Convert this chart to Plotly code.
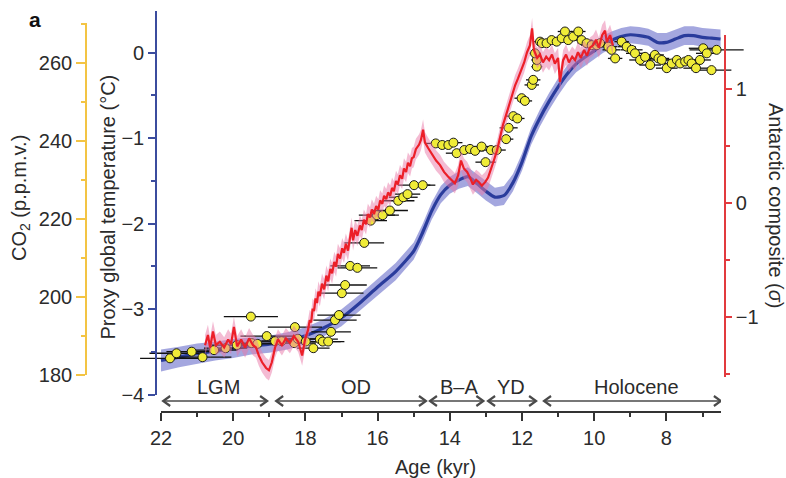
import plotly.graph_objects as go

# ------------------------------------------------------------------ data
# Proxy global temperature stack (deg C) with 1-sigma band
temp_age = [22.0, 21.5, 21.0, 20.5, 20.0, 19.5, 19.0, 18.5, 18.0, 17.5, 17.0, 16.5,
            16.0, 15.5, 15.0, 14.75, 14.5, 14.25, 14.0, 13.75, 13.5, 13.25, 13.0,
            12.75, 12.5, 12.25, 12.0, 11.75, 11.5, 11.25, 11.0, 10.75, 10.5, 10.25,
            10.0, 9.75, 9.5, 9.25, 9.0, 8.75, 8.5, 8.25, 8.0, 7.75, 7.5, 7.25, 7.0,
            6.75, 6.5]
temp_val = [-3.6, -3.56, -3.52, -3.49, -3.46, -3.43, -3.41, -3.37, -3.31, -3.22, -3.1,
            -2.93, -2.74, -2.56, -2.32, -2.1, -1.85, -1.66, -1.55, -1.49, -1.45, -1.53,
            -1.62, -1.69, -1.67, -1.52, -1.28, -0.98, -0.76, -0.57, -0.4, -0.25, -0.13,
            -0.05, 0.02, 0.1, 0.15, 0.19, 0.21, 0.2, 0.18, 0.12, 0.12, 0.16, 0.2, 0.2,
            0.18, 0.17, 0.16]
temp_err = [0.13, 0.12, 0.12, 0.11, 0.11, 0.1, 0.1, 0.1, 0.1, 0.1, 0.1, 0.1,
            0.1, 0.1, 0.1, 0.1, 0.1, 0.1, 0.1, 0.1, 0.11, 0.11, 0.11,
            0.11, 0.11, 0.1, 0.1, 0.1, 0.1, 0.1, 0.1, 0.1, 0.1, 0.1,
            0.1, 0.1, 0.1, 0.1, 0.1, 0.1, 0.1, 0.11, 0.11, 0.11, 0.11, 0.11, 0.11,
            0.11, 0.11]

# Antarctic temperature composite (sigma units)
ant_age = [20.78, 20.70, 20.64, 20.56, 20.48, 20.37, 20.25, 20.14, 20.06, 19.98, 19.89,
           19.78, 19.67, 19.56, 19.45, 19.37, 19.29, 19.20, 19.09, 19.01, 18.93, 18.84,
           18.76, 18.65, 18.54, 18.43, 18.32, 18.20, 18.09, 18.01,
           17.93, 17.88, 17.84, 17.80, 17.76, 17.72, 17.68, 17.64, 17.60, 17.54,
           17.48, 17.42, 17.37, 17.31, 17.26, 17.20, 17.15, 17.10, 17.04, 16.98,
           16.93, 16.88, 16.82, 16.76, 16.72, 16.68, 16.62, 16.56, 16.49, 16.44,
           16.38, 16.32, 16.27, 16.21, 16.16, 16.10, 16.04, 15.98, 15.93, 15.87,
           15.82, 15.76, 15.71, 15.65, 15.60, 15.55, 15.49, 15.44, 15.38, 15.32,
           15.27, 15.21, 15.16, 15.10, 15.05, 15.00, 14.94,
           14.85, 14.80, 14.74, 14.69, 14.60, 14.49, 14.38,
           14.27, 14.16, 14.05, 13.94, 13.86, 13.77, 13.69, 13.61, 13.52, 13.44, 13.36,
           13.27, 13.19, 13.11, 13.02, 12.94, 12.86, 12.78, 12.69, 12.61, 12.53, 12.44,
           12.36, 12.28, 12.19, 12.11, 12.03, 11.94, 11.86, 11.78, 11.72, 11.67, 11.58,
           11.50, 11.42, 11.33, 11.25, 11.17, 11.09, 11.00, 10.95, 10.86, 10.78, 10.70,
           10.61, 10.53, 10.45, 10.37, 10.28, 10.20, 10.12, 10.03, 9.95, 9.87, 9.78,
           9.70, 9.65, 9.56, 9.48]
ant_val = [-1.25, -1.16, -1.27, -1.13, -1.25, -1.22, -1.27, -1.20, -1.24, -1.09, -1.26,
           -1.20, -1.27, -1.19, -1.25, -1.27, -1.34, -1.40, -1.45, -1.47, -1.40, -1.27,
           -1.20, -1.25, -1.19, -1.23, -1.17, -1.22, -1.34, -1.20,
           -1.12, -1.03, -1.05, -0.93, -0.95, -0.84, -0.88, -0.78, -0.82, -0.71,
           -0.76, -0.64, -0.69, -0.58, -0.62, -0.52, -0.56, -0.45, -0.49, -0.40,
           -0.44, -0.36, -0.42, -0.30, -0.22, -0.33, -0.24, -0.29, -0.20, -0.24,
           -0.15, -0.19, -0.10, -0.13, -0.06, -0.10, -0.03, -0.06, 0.02, -0.01,
           0.06, 0.03, 0.09, 0.06, 0.13, 0.10, 0.19, 0.16, 0.24, 0.21,
           0.30, 0.27, 0.35, 0.32, 0.39, 0.40, 0.47,
           0.51, 0.55, 0.64, 0.53, 0.48, 0.42, 0.37,
           0.33, 0.27, 0.23, 0.20, 0.17, 0.24, 0.37, 0.30, 0.27, 0.22, 0.16,
           0.20, 0.18, 0.15, 0.18, 0.22, 0.29, 0.37, 0.46, 0.57, 0.68, 0.77,
           0.86, 0.94, 1.03, 1.09, 1.16, 1.23, 1.32, 1.38, 1.53, 1.34, 1.27,
           1.30, 1.23, 1.28, 1.25, 1.30, 1.22, 1.27, 1.06, 1.25, 1.30, 1.23,
           1.28, 1.25, 1.32, 1.27, 1.34, 1.29, 1.36, 1.38, 1.43, 1.36, 1.47,
           1.51, 1.41, 1.47, 1.38]
ANT_ERR = 0.09

# Atmospheric CO2 (p.p.m.v.) with age uncertainty (kyr)
co2_age = [21.75, 21.57, 21.15, 20.85, 20.53, 20.21, 19.90, 19.51, 19.49, 19.33, 19.07,
           18.84, 18.66, 18.31, 18.29, 18.21, 17.99, 17.78, 17.60, 17.52, 17.37, 17.29,
           17.18, 17.07, 16.99, 16.90, 16.76, 16.56, 16.37, 16.19, 16.02, 15.86, 15.66,
           15.43, 15.29, 15.17, 14.99, 14.75, 14.39, 14.21, 14.04, 13.90, 13.81, 13.60,
           13.44, 13.30, 13.12, 13.01, 12.86, 12.70, 12.44, 12.37, 12.24, 12.13, 12.01,
           11.92, 11.73, 11.69, 11.59, 11.59, 11.64, 11.50, 11.45, 11.32, 11.18, 11.04,
           10.90, 10.81, 10.72, 10.58, 10.44, 10.35, 10.21, 10.07, 9.93, 9.84, 9.61,
           9.52, 9.42, 9.24, 9.10, 8.96, 8.87, 8.73, 8.59, 8.45, 8.32, 8.22, 8.13,
           7.99, 7.85, 7.71, 7.62, 7.48, 7.39, 7.30, 7.18, 7.07, 6.98, 6.88, 6.75, 6.61]
co2_val = [184.2, 185.5, 185.9, 184.5, 186.3, 186.8, 187.6, 194.9, 188.1, 187.9, 189.9,
           188.6, 188.6, 188.1, 192.2, 189.2, 188.5, 186.8, 189.1, 188.5, 188.5, 191.0,
           194.0, 195.3, 200.9, 203.0, 207.9, 207.4, 213.8, 219.5, 220.9, 220.9, 222.1,
           224.6, 225.5, 226.3, 228.6, 228.6, 239.3, 238.9, 238.9, 239.5, 236.8, 237.6,
           237.9, 237.4, 238.5, 234.5, 237.6, 237.6, 240.4, 243.3, 246.3, 245.7, 250.9,
           250.2, 254.3, 255.6, 259.0, 260.7, 262.4, 265.4, 265.0, 265.0, 265.8, 265.4,
           266.3, 268.0, 265.8, 266.7, 268.0, 265.8, 265.0, 264.5, 264.5, 265.0, 264.1,
           263.3, 261.1, 265.4, 264.1, 263.3, 262.4, 260.7, 261.5, 259.4, 262.0, 261.1,
           260.7, 258.6, 259.8, 260.7, 259.8, 260.3, 260.7, 259.8, 258.6, 260.7, 263.7,
           262.4, 258.1, 263.3]
co2_age_err = [0.83, 0.75, 0.7, 0.8, 0.65, 0.6, 0.7, 0.75, 0.6, 0.55, 0.73,
               0.6, 0.55, 0.6, 0.75, 0.6, 0.5, 0.45, 0.5, 0.5, 0.45, 0.55,
               0.6, 0.6, 0.6, 0.6, 0.55, 0.55, 0.55, 0.45, 0.5, 0.45, 0.5,
               0.45, 0.4, 0.35, 0.45, 0.35, 0.3, 0.25, 0.25, 0.25, 0.3, 0.25,
               0.25, 0.25, 0.25, 0.28, 0.25, 0.25, 0.2, 0.25, 0.2, 0.2, 0.2,
               0.2, 0.2, 0.2, 0.15, 0.15, 0.15, 0.2, 0.15, 0.2, 0.2, 0.2,
               0.25, 0.2, 0.2, 0.25, 0.2, 0.3, 0.25, 0.3, 0.25, 0.2, 0.25,
               0.25, 0.2, 0.2, 0.25, 0.3, 0.25, 0.3, 0.25, 0.3, 0.25, 0.3, 0.35,
               0.3, 0.3, 0.4, 0.3, 0.3, 0.35, 0.3, 0.35, 0.3, 0.4, 0.3, 0.55, 0.75]

# Periods shown by arrows under the curves
period_names = ["LGM", "OD", "B–A", "YD", "Holocene"]
period_start = [21.94, 18.81, 14.55, 12.94, 11.39]
period_end = [19.06, 14.66, 13.07, 11.61, 6.49]
period_label_age = [20.41, 16.59, 13.75, 12.31, 8.84]

# Tick settings
age_tick0, age_dtick = 8, 2
temp_dtick = 1
co2_tick0, co2_dtick = 180, 20
ant_dtick = 1
AGE_MAX, AGE_MIN = 22, 6.49
TEMP_MIN = -4.003
CO2_MIN = 179.95

assert len(ant_age) == len(ant_val)
assert len(co2_age) == len(co2_val) == len(co2_age_err)
assert len(temp_age) == len(temp_val) == len(temp_err)

# ------------------------------------------------------------------ geometry (pixels)
W, H = 786, 478
X22_PX, PX_PER_KYR = 161.0, 36.1
X_AXIS_Y = 411.7
T0_PX, PX_PER_C, T_TOP_PX = 52.7, 85.5, 10.7
C260_PX, PX_PER_PPM, C_TOP_PX = 62.7, 3.9, 22.7
A0_PX, PX_PER_SIG, A_TOP_PX, A_BOT_PX = 202.7, 114.0, 35.0, 376.7
T_AX_X, C_AX_X, A_AX_X = 156.0, 86.0, 725.0
ARROW_Y, LABEL_Y = 401.0, 387.0


def age_at(px):
    return 22 - (px - X22_PX) / PX_PER_KYR


def px_of_age(a):
    return X22_PX + (22 - a) * PX_PER_KYR


def temp_at(py):
    return (T0_PX - py) / PX_PER_C


def co2_at(py):
    return 260 - (py - C260_PX) / PX_PER_PPM


def ant_at(py):
    return (A0_PX - py) / PX_PER_SIG


def fx(px):
    return px / W


def fy(py):
    return 1 - py / H


FONT = "Liberation Sans, Arial, Helvetica, sans-serif"
TXT = "#2b2b2b"
BLUE_AX = "#3b4c9e"
CO2_AX = "#f3c444"
RED_AX = "#e23a3e"

fig = go.Figure()

# temperature band + line
fig.add_trace(go.Scatter(
    x=temp_age + temp_age[::-1],
    y=[v + e for v, e in zip(temp_val, temp_err)] + [v - e for v, e in zip(temp_val, temp_err)][::-1],
    fill="toself", fillcolor="rgba(138,142,214,0.78)", line=dict(width=0),
    mode="lines", hoverinfo="skip", showlegend=False, xaxis="x", yaxis="y"))
fig.add_trace(go.Scatter(
    x=temp_age, y=temp_val, mode="lines", line=dict(color="#2a3c9c", width=3.2, shape="spline", smoothing=0.6),
    showlegend=False, xaxis="x", yaxis="y"))

# Antarctic band + line
fig.add_trace(go.Scatter(
    x=ant_age + ant_age[::-1],
    y=[v + ANT_ERR for v in ant_val] + [v - ANT_ERR for v in ant_val][::-1],
    fill="toself", fillcolor="rgba(234,120,168,0.5)", line=dict(width=0),
    mode="lines", hoverinfo="skip", showlegend=False, xaxis="x", yaxis="y3"))
fig.add_trace(go.Scatter(
    x=ant_age, y=ant_val, mode="lines", line=dict(color="#ec1f28", width=2.2),
    showlegend=False, xaxis="x", yaxis="y3"))

# CO2 points
fig.add_trace(go.Scatter(
    x=co2_age, y=co2_val, mode="markers",
    marker=dict(size=9, color="#f0ec38", line=dict(color="#1a1a1a", width=1)),
    error_x=dict(type="data", array=co2_age_err, symmetric=True, color="#111111", thickness=1.3, width=0),
    showlegend=False, xaxis="x", yaxis="y2"))

# dummy traces so the visible axes get drawn
for yid in ["y5", "y6", "y7"]:
    fig.add_trace(go.Scatter(x=[None], y=[None], mode="markers", xaxis="x2", yaxis=yid,
                             showlegend=False, hoverinfo="skip"))

tickfont = dict(family=FONT, size=20, color=TXT)

layout = dict(
    width=W, height=H, autosize=False,
    margin=dict(l=0, r=0, t=0, b=0, pad=0, autoexpand=False),
    paper_bgcolor="white", plot_bgcolor="rgba(0,0,0,0)",
    font=dict(family=FONT, size=20, color=TXT),
    showlegend=False,
    # hidden data axes spanning the whole figure
    xaxis=dict(domain=[0, 1], range=[age_at(0), age_at(W)], visible=False, fixedrange=True, automargin=False),
    yaxis=dict(domain=[0, 1], range=[temp_at(H), temp_at(0)], visible=False, fixedrange=True, automargin=False),
    yaxis2=dict(overlaying="y", range=[co2_at(H), co2_at(0)], visible=False, fixedrange=True, automargin=False),
    yaxis3=dict(overlaying="y", range=[ant_at(H), ant_at(0)], visible=False, fixedrange=True, automargin=False),
    # visible age axis
    xaxis2=dict(domain=[fx(px_of_age(AGE_MAX)), fx(px_of_age(AGE_MIN))], range=[AGE_MAX, AGE_MIN],
                anchor="free", position=fy(X_AXIS_Y), showline=True, linecolor="#333333", linewidth=1.6,
                ticks="outside", ticklen=8, tickwidth=1.6, tickcolor="#333333",
                tickmode="linear", tick0=age_tick0, dtick=age_dtick, tickfont=tickfont,
                minor=dict(ticks="outside", dtick=1, ticklen=4, tickwidth=1.6, tickcolor="#333333", showgrid=False),
                showgrid=False, zeroline=False, fixedrange=True, automargin=False),
    # temperature axis
    yaxis5=dict(domain=[fy(T0_PX - TEMP_MIN * PX_PER_C), fy(T_TOP_PX)], range=[TEMP_MIN, temp_at(T_TOP_PX)],
                anchor="free", position=fx(T_AX_X), side="left", showline=True, linecolor=BLUE_AX, linewidth=1.6,
                ticks="outside", ticklen=7, tickwidth=1.6, tickcolor=BLUE_AX,
                tickmode="linear", tick0=0, dtick=temp_dtick, tickfont=tickfont,
                minor=dict(ticks="outside", dtick=0.5, ticklen=4, tickwidth=1.6, tickcolor=BLUE_AX, showgrid=False),
                showgrid=False, zeroline=False, fixedrange=True, automargin=False),
    # CO2 axis
    yaxis6=dict(domain=[fy(C260_PX + (260 - CO2_MIN) * PX_PER_PPM), fy(C_TOP_PX)], range=[CO2_MIN, co2_at(C_TOP_PX)],
                anchor="free", position=fx(C_AX_X), side="left", showline=True, linecolor=CO2_AX, linewidth=1.6,
                ticks="outside", ticklen=9, tickwidth=1.6, tickcolor=CO2_AX,
                tickmode="linear", tick0=co2_tick0, dtick=co2_dtick, tickfont=tickfont,
                minor=dict(ticks="outside", dtick=10, ticklen=4, tickwidth=1.6, tickcolor=CO2_AX, showgrid=False),
                showgrid=False, zeroline=False, fixedrange=True, automargin=False),
    # Antarctic composite axis
    yaxis7=dict(domain=[fy(A_BOT_PX), fy(A_TOP_PX)], range=[ant_at(A_BOT_PX), ant_at(A_TOP_PX)],
                anchor="free", position=fx(A_AX_X), side="right", showline=True, linecolor=RED_AX, linewidth=1.6,
                ticks="outside", ticklen=6, tickwidth=1.6, tickcolor=RED_AX,
                tickmode="linear", tick0=0, dtick=ant_dtick, tickfont=tickfont,
                minor=dict(ticks="outside", dtick=0.5, ticklen=4, tickwidth=1.6, tickcolor=RED_AX, showgrid=False),
                showgrid=False, zeroline=False, fixedrange=True, automargin=False),
)
fig.update_layout(**layout)

ann = []
# axis titles
ann.append(dict(text="CO<sub>2</sub> (p.p.m.v.)", x=fx(20), y=fy(198), xref="paper", yref="paper",
                textangle=-90, showarrow=False, xanchor="center", yanchor="middle",
                font=dict(family=FONT, size=20, color=TXT)))
ann.append(dict(text="Proxy global temperature (°C)", x=fx(107), y=fy(207.5), xref="paper", yref="paper",
                textangle=-90, showarrow=False, xanchor="center", yanchor="middle",
                font=dict(family=FONT, size=20, color=TXT)))
ann.append(dict(text="Antarctic composite (<i>σ</i>)", x=fx(776), y=fy(205), xref="paper", yref="paper",
                textangle=90, showarrow=False, xanchor="center", yanchor="middle",
                font=dict(family=FONT, size=20, color=TXT)))
ann.append(dict(text="Age (kyr)", x=fx(436), y=fy(467), xref="paper", yref="paper",
                showarrow=False, xanchor="center", yanchor="middle",
                font=dict(family=FONT, size=20, color=TXT)))
ann.append(dict(text="<b>a</b>", x=fx(34.5), y=fy(19), xref="paper", yref="paper",
                showarrow=False, xanchor="center", yanchor="middle",
                font=dict(family=FONT, size=21, color="#111111")))

# period arrows (line + chevron heads as shapes) and labels
shapes = []
ARROW_COL = "#4a4a4a"
head_dk = 7.0 / PX_PER_KYR      # arrowhead length in kyr
head_dy = 5.0 / H               # arrowhead half-height in paper units
ya = fy(ARROW_Y)
for name, a0, a1, al in zip(period_names, period_start, period_end, period_label_age):
    shapes.append(dict(type="line", xref="x2", yref="paper", x0=a0, x1=a1, y0=ya, y1=ya,
                       line=dict(color=ARROW_COL, width=1.5)))
    # head at start (pointing to older age / left)
    shapes.append(dict(type="path", xref="x2", yref="paper",
                       path=f"M{a0 - head_dk},{ya + head_dy} L{a0},{ya} L{a0 - head_dk},{ya - head_dy}",
                       line=dict(color=ARROW_COL, width=2.2)))
    # head at end (pointing to younger age / right)
    shapes.append(dict(type="path", xref="x2", yref="paper",
                       path=f"M{a1 + head_dk},{ya + head_dy} L{a1},{ya} L{a1 + head_dk},{ya - head_dy}",
                       line=dict(color=ARROW_COL, width=2.2)))
    ann.append(dict(text=name, x=al, y=fy(LABEL_Y), xref="x2", yref="paper", showarrow=False,
                    xanchor="center", yanchor="middle", font=dict(family=FONT, size=20, color=TXT)))

fig.update_layout(annotations=ann, shapes=shapes)

fig.write_html("out.html", config={"displayModeBar": False},
               post_script="document.body.style.margin='0';")
